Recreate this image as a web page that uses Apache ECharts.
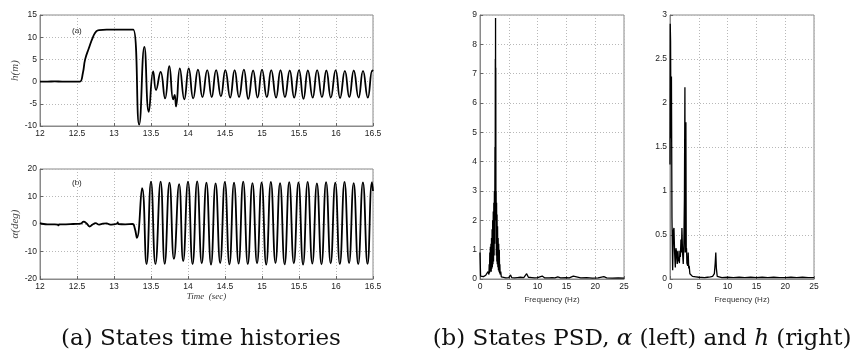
<!DOCTYPE html>
<html><head><meta charset="utf-8">
<script src="https://cdn.jsdelivr.net/npm/echarts@6/dist/echarts.min.js"></script>
<style>html,body{margin:0;padding:0;background:#fff}#c{width:856px;height:360px}</style>
</head><body><div id="c"></div>
<script>
// ---- h(m) time history ----
const hTime = [12.0,12.1,12.2,12.3,12.4,12.5,12.54,12.58,12.61,12.66,12.72,12.76,12.8,12.9,13.0,13.1,13.2,13.26,
  13.34,13.41,13.47,13.53,13.568,13.63,13.69,13.747,13.80,13.82,13.838,13.89,13.95,
  14.01,14.07,14.135,14.195,14.26,14.32,14.38,14.445,14.505,14.57,14.63,14.69,14.755,14.815,14.88,14.94,
  15.0,15.065,15.125,15.19,15.25,15.31,15.375,15.435,15.5,15.56,15.62,15.685,15.745,15.81,15.87,15.93,
  15.995,16.055,16.12,16.18,16.24,16.305,16.365,16.43,16.49,16.5];
const hVal = [0,0,0.05,0,0,0,0,2.0,5.0,7.5,10.2,11.3,11.6,11.7,11.7,11.7,11.7,11.7,
  -9.7,7.8,-6.8,2.3,-1.9,2.2,-3.8,3.5,-4.0,-3.0,-5.6,3.0,-4.0,
  3.0,-3.8,2.7,-3.5,2.6,-3.5,2.6,-3.3,2.6,-3.6,2.6,-3.5,2.7,-3.9,2.5,-3.6,
  2.7,-3.5,2.6,-3.6,2.6,-3.5,2.5,-3.6,2.6,-3.9,2.5,-3.6,2.6,-3.5,2.5,-3.6,
  2.6,-3.7,2.4,-3.5,2.5,-3.6,2.4,-3.6,2.5,2.3];
// ---- alpha(deg) time history ----
const aTime = [12.0,12.05,12.1,12.2,12.24,12.25,12.26,12.35,12.45,12.55,12.59,12.63,12.67,12.71,12.75,12.8,12.85,12.9,12.95,13.0,13.04,13.05,13.06,13.15,13.25,13.28,13.31,
  13.38,13.44,13.50,13.56,13.63,13.685,13.75,13.81,13.88,13.935,14.0,
  14.062,14.124,14.186,14.249,14.311,14.373,14.435,14.498,14.56,14.622,14.684,14.746,14.808,14.871,14.933,14.995,
  15.057,15.12,15.182,15.244,15.306,15.368,15.43,15.493,15.555,15.617,15.68,15.742,15.804,15.866,15.928,15.99,
  16.052,16.115,16.177,16.239,16.30,16.364,16.426,16.486,16.5];
const aVal = [0.3,0,-0.1,-0.1,-0.2,-0.5,-0.1,-0.1,0,0.1,0.9,0.2,-0.9,-0.2,0.3,-0.2,0.1,0.2,-0.2,-0.1,0.1,0.6,0,-0.1,0,-1.5,-5.0,
  13.0,-14.6,15.4,-14.6,15.4,-14.5,15.0,-12.7,14.5,-13.5,15.4,
  -14.6,15.5,-14.3,15.0,-14.8,14.8,-14.2,15.3,-14.7,15.0,-14.4,15.4,-14.6,14.9,-14.3,15.1,
  -14.8,15.3,-14.2,14.9,-14.7,15.2,-14.3,15.1,-14.8,15.3,-14.4,14.8,-14.7,15.2,-14.3,15.0,
  -14.6,15.3,-14.2,14.9,-14.6,15.1,-14.5,15.2,12.0];
// ---- PSD of alpha ----
const psdAFreq = [0,0.05,0.1,0.2,0.4,0.6,0.8,1.0,1.1,1.2,1.3,1.4,1.5,1.55,1.6,1.65,1.7,1.75,1.8,1.85,1.9,1.95,2.0,2.05,2.1,2.15,2.2,2.25,2.3,2.35,2.4,2.45,2.5,2.55,2.6,2.63,2.66,2.68,2.7,2.72,2.74,2.77,2.8,2.84,2.88,2.92,2.96,3.0,3.05,3.1,3.15,3.2,3.25,3.3,3.35,3.4,3.45,3.5,3.6,3.7,4.0,4.5,5.0,5.3,5.5,6.0,6.5,7.0,7.3,7.6,8.1,8.4,9.0,9.5,10.0,10.8,11.2,12.0,12.5,13.0,13.5,14.0,15.0,15.5,16.2,16.5,17.5,18.5,19.5,20.5,21.5,22.0,23.0,24.0,25.0];
const psdAVal = [0.9,0.5,0.1,0.05,0.06,0.08,0.1,0.13,0.1,0.18,0.12,0.25,0.3,0.15,0.5,0.2,0.9,0.25,1.1,0.3,1.2,0.25,1.4,0.35,1.7,0.4,2.0,0.5,2.3,0.6,2.6,0.8,3.0,1.2,4.5,2.0,7.5,4.0,8.9,3.5,7.2,2.0,3.0,0.8,2.6,0.6,2.2,0.5,1.8,0.4,1.4,0.3,1.2,0.25,1.0,0.2,0.5,0.15,0.25,0.07,0.05,0.04,0.05,0.14,0.05,0.04,0.05,0.06,0.1,0.05,0.18,0.06,0.05,0.04,0.05,0.1,0.04,0.04,0.05,0.04,0.07,0.04,0.05,0.04,0.1,0.04,0.04,0.05,0.03,0.04,0.08,0.04,0.03,0.04,0.03];
// ---- PSD of h ----
const psdHFreq = [0,0.04,0.1,0.17,0.25,0.34,0.46,0.57,0.69,0.8,0.92,1.03,1.15,1.26,1.38,1.47,1.55,1.63,1.72,1.8,1.9,1.98,2.07,2.18,2.3,2.41,2.5,2.59,2.64,2.7,2.76,2.82,2.87,2.93,2.99,3.08,3.16,3.25,3.33,3.45,3.56,3.9,4.5,5.0,6.0,6.5,7.0,7.4,7.7,7.85,7.95,8.05,8.2,8.5,9.0,10.0,11.0,12.0,13.0,14.0,15.0,16.0,17.0,18.0,19.0,20.0,21.0,22.0,23.0,24.0,25.0];
const psdHVal = [1.3,2.9,2.7,1.6,2.3,0.7,0.1,0.55,0.58,0.3,0.13,0.35,0.3,0.17,0.32,0.2,0.25,0.18,0.32,0.25,0.45,0.3,0.58,0.3,0.17,0.4,0.9,2.18,0.3,0.9,1.78,0.3,0.35,0.18,0.2,0.15,0.3,0.12,0.15,0.06,0.05,0.03,0.025,0.02,0.015,0.02,0.025,0.03,0.06,0.18,0.3,0.12,0.03,0.02,0.015,0.02,0.015,0.02,0.015,0.02,0.015,0.02,0.015,0.02,0.015,0.015,0.02,0.015,0.02,0.015,0.015];
// tick settings
const timeTicks = {min:12, max:16.5, interval:0.5};
const freqTicks = {min:0, max:25, interval:5};

const zip = (a,b) => a.map((v,i)=>[v,b[i]]);
const labelFont = {fontFamily:'Liberation Sans', fontSize:8.5, color:'#222'};
const splitDot = {show:true, lineStyle:{color:'#b8b8b8', type:[1,2], width:1}};
function xAx(gi, t, name, nameStyle){
  return {type:'value', gridIndex:gi, min:t.min, max:t.max, interval:t.interval,
    axisLine:{onZero:false, lineStyle:{color:'#8a8a8a'}}, axisTick:{inside:true,length:3,lineStyle:{color:'#666'}},
    axisLabel:Object.assign({margin:3}, labelFont), splitLine:splitDot,
    name:name, nameLocation:'middle', nameGap:13, nameTextStyle:nameStyle||{}};
}
function yAx(gi, min, max, interval, name){
  return {type:'value', gridIndex:gi, min:min, max:max, interval:interval,
    axisLine:{show:true, onZero:false, lineStyle:{color:'#8a8a8a'}}, axisTick:{show:true,inside:true,length:3,lineStyle:{color:'#666'}},
    axisLabel:Object.assign({margin:3}, labelFont), splitLine:splitDot,
    name:name||'', nameLocation:'middle', nameGap:15,
    nameTextStyle:{fontFamily:'Liberation Serif', fontStyle:'italic', fontSize:11, color:'#444'}};
}
const gridBase = {show:true, borderColor:'#8a8a8a', borderWidth:1, backgroundColor:'#fff'};
const option = {
  animation:false,
  grid:[
    Object.assign({left:40, top:15, width:333, height:111}, gridBase),
    Object.assign({left:40, top:169, width:333, height:110}, gridBase),
    Object.assign({left:480, top:15, width:144, height:264}, gridBase),
    Object.assign({left:670, top:15, width:144, height:264}, gridBase)
  ],
  xAxis:[
    xAx(0, timeTicks, ''),
    xAx(1, timeTicks, 'Time  (sec)', {fontFamily:'Liberation Serif', fontStyle:'italic', fontSize:9, color:'#333'}),
    xAx(2, freqTicks, 'Frequency (Hz)', {fontFamily:'Liberation Sans', fontSize:8, color:'#333'}),
    xAx(3, freqTicks, 'Frequency (Hz)', {fontFamily:'Liberation Sans', fontSize:8, color:'#333'})
  ],
  yAxis:[
    yAx(0,-10,15,5,'h(m)'),
    yAx(1,-20,20,10,'α(deg)'),
    yAx(2,0,9,1,''),
    yAx(3,0,3,0.5,'')
  ],
  series:[
    {type:'line', xAxisIndex:0, yAxisIndex:0, data:zip(hTime,hVal), showSymbol:false, smooth:0.5, lineStyle:{color:'#000', width:1.8}},
    {type:'line', xAxisIndex:1, yAxisIndex:1, data:zip(aTime,aVal), showSymbol:false, smooth:0.5, lineStyle:{color:'#000', width:1.8}},
    {type:'line', xAxisIndex:2, yAxisIndex:2, data:zip(psdAFreq,psdAVal), showSymbol:false, lineStyle:{color:'#000', width:1.3}},
    {type:'line', xAxisIndex:3, yAxisIndex:3, data:zip(psdHFreq,psdHVal), showSymbol:false, lineStyle:{color:'#000', width:1.3}}
  ],
  graphic:[
    {type:'text', left:72, top:27, style:{text:'(a)', font:'8px "Liberation Sans"', fill:'#222'}},
    {type:'text', left:72, top:179, style:{text:'(b)', font:'8px "Liberation Sans"', fill:'#222'}},
    {type:'text', x:201, y:339, style:{text:'(a) States time histories', font:'23px "DejaVu Serif"', fill:'#111', align:'center', verticalAlign:'middle'}},
    {type:'text', x:642, y:339, style:{text:'(b) States PSD, {i|α} (left) and {i|h} (right)', font:'23px "DejaVu Serif"', fill:'#111', align:'center', verticalAlign:'middle',
      rich:{i:{fontStyle:'italic', fontFamily:'DejaVu Serif', fontSize:23}}}}
  ]
};
const chart = echarts.init(document.getElementById('c'));
chart.setOption(option);
</script></body></html>
